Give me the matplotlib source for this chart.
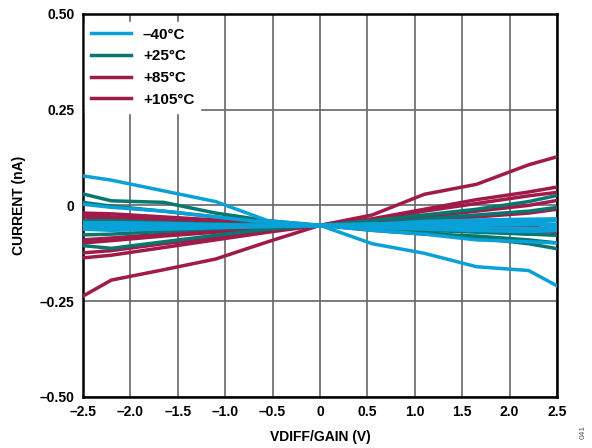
import matplotlib
matplotlib.use("Agg")
import matplotlib.pyplot as plt

plt.rcParams['font.family'] = ['Liberation Sans', 'DejaVu Sans']
plt.rcParams['font.weight'] = 'bold'

vdiff = [-2.5, -2.2, -1.65, -1.1, -0.55, 0, 0.55, 1.1, 1.65, 2.2, 2.5]

# -40 C
cold = [
    [0.077, 0.066, 0.038, 0.010, -0.040, -0.052, -0.100, -0.125, -0.160, -0.170, -0.210],
    [0.003, -0.005, -0.015, -0.030, -0.045, -0.052, -0.065, -0.075, -0.090, -0.095, -0.098],
    [-0.045, -0.045, -0.047, -0.050, -0.052, -0.052, -0.050, -0.048, -0.045, -0.043, -0.040],
    [-0.055, -0.058, -0.057, -0.055, -0.054, -0.053, -0.053, -0.052, -0.050, -0.050, -0.050],
    [-0.062, -0.065, -0.062, -0.058, -0.055, -0.053, -0.055, -0.057, -0.058, -0.060, -0.062],
    [-0.050, -0.052, -0.052, -0.052, -0.052, -0.052, -0.048, -0.046, -0.045, -0.047, -0.055],
    [-0.058, -0.060, -0.058, -0.056, -0.054, -0.052, -0.050, -0.042, -0.038, -0.036, -0.035],
    [-0.048, -0.062, -0.060, -0.057, -0.055, -0.053, -0.058, -0.062, -0.066, -0.068, -0.066],
]
# +25 C
room = [
    [0.030, 0.012, 0.008, -0.020, -0.040, -0.052, -0.060, -0.070, -0.085, -0.100, -0.113],
    [0.008, -0.002, -0.015, -0.030, -0.045, -0.052, -0.040, -0.025, -0.010, 0.010, 0.026],
    [-0.040, -0.040, -0.045, -0.048, -0.050, -0.052, -0.050, -0.035, -0.025, -0.015, -0.005],
    [-0.077, -0.075, -0.068, -0.060, -0.055, -0.052, -0.060, -0.065, -0.070, -0.075, -0.078],
    [-0.105, -0.112, -0.095, -0.078, -0.062, -0.052, -0.065, -0.075, -0.080, -0.090, -0.098],
]
# +85 C
hot = [
    [-0.137, -0.130, -0.110, -0.090, -0.070, -0.052, -0.035, -0.010, 0.015, 0.035, 0.048],
    [-0.098, -0.092, -0.080, -0.070, -0.060, -0.052, -0.045, -0.030, -0.015, 0.000, 0.013],
    [-0.020, -0.022, -0.030, -0.038, -0.045, -0.052, -0.050, -0.055, -0.065, -0.075, -0.060],
    [-0.030, -0.035, -0.040, -0.045, -0.050, -0.052, -0.055, -0.060, -0.050, -0.055, -0.065],
]
# +105 C
hottest = [
    [-0.237, -0.195, -0.168, -0.140, -0.095, -0.052, -0.025, 0.029, 0.055, 0.106, 0.127],
    [-0.124, -0.118, -0.100, -0.085, -0.065, -0.052, -0.040, -0.015, 0.005, 0.025, 0.034],
    [-0.090, -0.085, -0.075, -0.065, -0.058, -0.052, -0.050, -0.055, -0.060, -0.065, -0.071],
    [-0.025, -0.030, -0.035, -0.042, -0.048, -0.052, -0.045, -0.040, -0.030, -0.020, -0.010],
]

labels = ['\u201340°C', '+25°C', '+85°C', '+105°C']
colors = ['#0aa0d8', '#08786f', '#a01a4a', '#a01a4a']
groups = [cold, room, hot, hottest]

xticks = [-2.5, -2.0, -1.5, -1.0, -0.5, 0, 0.5, 1.0, 1.5, 2.0, 2.5]
xticklabels = ['\u20132.5', '\u20132.0', '\u20131.5', '\u20131.0', '\u20130.5', '0',
               '0.5', '1.0', '1.5', '2.0', '2.5']
yticks = [-0.5, -0.25, 0, 0.25, 0.5]
yticklabels = ['\u20130.50', '\u20130.25', '0', '0.25', '0.50']

fig = plt.figure(figsize=(5.92, 4.48), dpi=100)
ax = fig.add_axes([0.140, 0.114, 0.801, 0.855])

handles = [None] * 4
for i in [3, 2, 1, 0]:
    for curve in groups[i]:
        ln, = ax.plot(vdiff, curve, color=colors[i], lw=2.5, zorder=3 + (3 - i))
    handles[i] = ln

ax.set_xlim(-2.5, 2.5)
ax.set_ylim(-0.5, 0.5)
ax.set_xticks(xticks)
ax.set_xticklabels(xticklabels)
ax.set_yticks(yticks)
ax.set_yticklabels(yticklabels)
ax.tick_params(length=0, labelsize=10, pad=6)
ax.grid(True, color='#666666', lw=1.2)
for s in ax.spines.values():
    s.set_linewidth(1.8)
    s.set_color('black')

ax.set_xlabel('VDIFF/GAIN (V)', fontsize=10, fontweight='bold', labelpad=8)
ax.set_ylabel('CURRENT (nA)', fontsize=10, fontweight='bold', labelpad=10)

leg = ax.legend(handles, labels, loc='upper left', bbox_to_anchor=(-0.012, 1.0),
                frameon=True, fancybox=False, edgecolor='white', framealpha=1,
                fontsize=11, handlelength=2.6, borderaxespad=0.5, labelspacing=0.5)
leg.set_zorder(10)
for t in leg.get_texts():
    t.set_fontweight('bold')

fig.text(0.985, 0.035, '041', rotation=90, fontsize=6, color='#555555',
         fontweight='normal', ha='center', va='center')

fig.savefig('out.png', dpi=100)
